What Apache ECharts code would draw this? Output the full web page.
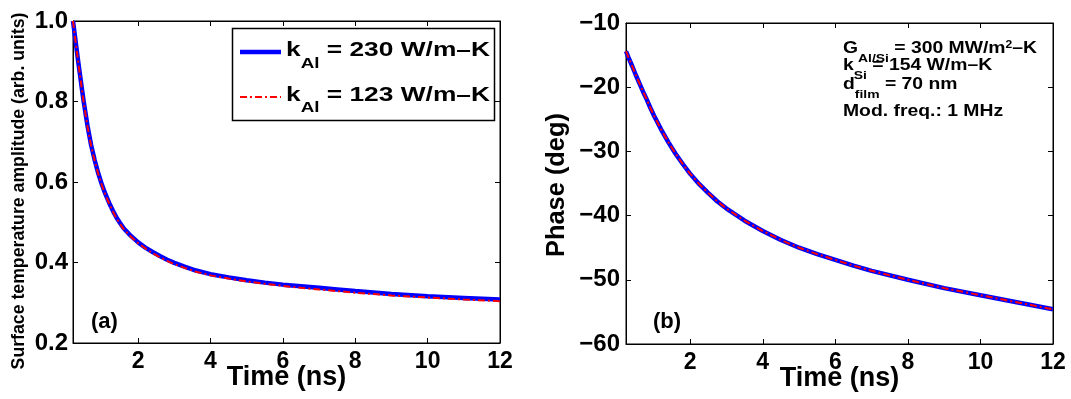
<!DOCTYPE html>
<html>
<head>
<meta charset="utf-8">
<script src="https://cdn.jsdelivr.net/npm/echarts@6/dist/echarts.min.js"></script>
<style>
html,body{margin:0;padding:0;background:#fff;}
#chart{width:1071px;height:399px;}
</style>
</head>
<body>
<div id="chart"></div>
<script>
// ---- data ----
const timeA = [0.2,0.25,0.3,0.35,0.4,0.45,0.5,0.6,0.7,0.8,0.9,1.0,1.1,1.2,1.3,1.4,1.5,1.6,1.8,2.0,2.2,2.4,2.6,2.8,3.0,3.3,3.6,4.0,4.5,5,5.5,6,6.5,7,7.5,8,9,10,11,12];
const ampK230 = [1.0,0.965,0.93,0.895,0.862,0.829,0.797,0.74,0.692,0.654,0.621,0.593,0.569,0.548,0.529,0.512,0.498,0.485,0.466,0.450,0.437,0.426,0.416,0.407,0.399,0.389,0.380,0.371,0.363,0.356,0.350,0.345,0.341,0.337,0.333,0.329,0.322,0.316,0.312,0.308];
const ampK123 = [1.0,0.963,0.928,0.893,0.860,0.827,0.795,0.738,0.690,0.652,0.619,0.591,0.567,0.546,0.527,0.510,0.496,0.483,0.464,0.448,0.435,0.423,0.413,0.404,0.396,0.386,0.377,0.368,0.360,0.353,0.347,0.342,0.337,0.333,0.329,0.325,0.318,0.313,0.308,0.304];

const timeB = [0.23,0.3,0.4,0.5,0.6,0.7,0.8,0.9,1.0,1.2,1.4,1.6,1.8,2.0,2.25,2.5,2.75,3.0,3.5,4.0,4.5,5.0,5.5,6.0,6.5,7.0,8.0,9.0,10,11,12];
const phaseK230 = [-14.4,-15.4,-16.7,-18.1,-19.4,-20.7,-21.9,-23.2,-24.4,-26.6,-28.6,-30.4,-32.0,-33.5,-35.1,-36.5,-37.8,-38.9,-40.8,-42.4,-43.8,-45.0,-46.0,-46.9,-47.8,-48.6,-50.0,-51.3,-52.4,-53.5,-54.6];
const phaseK123 = [-14.4,-15.4,-16.7,-18.1,-19.4,-20.7,-21.9,-23.2,-24.4,-26.6,-28.6,-30.4,-32.0,-33.5,-35.1,-36.5,-37.8,-38.9,-40.8,-42.4,-43.8,-45.0,-46.0,-46.9,-47.8,-48.6,-50.0,-51.3,-52.4,-53.5,-54.6];

const xTicks = [2,4,6,8,10,12];
const seriesNames = ['k230','k123'];
// fragments: [text, kind] kind: m = main, s = subscript, p = superscript
const legendLabels = [
  [['k','m'],['Al','s'],[' = 230 W/m–K','m']],
  [['k','m'],['Al','s'],[' = 123 W/m–K','m']]
];
const annotLines = [
  [['G','m'],['Al/Si','s'],[' = 300 MW/m','m'],['2','p'],['–K','m']],
  [['k','m'],['Si','s'],[' = 154 W/m–K','m']],
  [['d','m'],['film','s'],[' = 70 nm','m']],
  [['Mod. freq.: 1 MHz','m']]
];
const panelLabels = ['(a)','(b)'];
const yTitleA = 'Surface temperature amplitude (arb. units)';
const yTitleB = 'Phase (deg)';
const xTitle = 'Time (ns)';

// ---- chart ----
const FF = "'Liberation Sans', Arial, Helvetica, sans-serif";
const chart = echarts.init(document.getElementById('chart'), null, {renderer:'canvas'});
const mctx = document.createElement('canvas').getContext('2d');
function textW(t, size){ mctx.font = 'bold ' + size + 'px ' + FF; return mctx.measureText(t).width; }

function pairs(xs, ys){ return xs.map((x,i)=>[x, ys[i]]); }

// build a line of text from fragments, stretched to a target width if given
function fragLine(x, y, frags, sizes, offs, targetW, scaleIn){
  const nat = frags.reduce((a,f)=>a + textW(f[0], sizes[f[1]]), 0);
  const sc = scaleIn || (targetW ? targetW/nat : 1);
  let cx = x;
  const els = frags.map(f=>{
    const el = {type:'text', x:cx, y:y + offs[f[1]], scaleX:sc, z:10,
      style:{text:f[0], font:'bold '+sizes[f[1]]+'px '+FF, fill:'#000', textAlign:'left', textVerticalAlign:'middle'}};
    cx += textW(f[0], sizes[f[1]]) * sc;
    return el;
  });
  return {els:els, scale:sc};
}

const G = [
  {left:73, top:21, width:427, height:322},
  {left:626, top:23, width:427, height:321}
];

function xAx(gi, min, main){
  return {
    type:'value', gridIndex:gi, min:min, max:12,
    position: main ? 'bottom' : 'top',
    axisLine:{show:true, onZero:false, lineStyle:{color:'#000', width:1}},
    axisTick:{show:true, inside:true, length:5, customValues:xTicks, lineStyle:{color:'#000'}},
    axisLabel:{show:main, customValues:xTicks, margin:7, color:'#000', fontFamily:FF, fontWeight:'bold', fontSize:23},
    splitLine:{show:false},
    name: main ? xTitle : '', nameLocation:'middle', nameGap:21, nameMoveOverlap:false,
    nameTextStyle:{color:'#000', fontFamily:FF, fontWeight:'bold', fontSize:27}
  };
}
function yAx(gi, min, max, interval, main, fmt, margin){
  return {
    type:'value', gridIndex:gi, min:min, max:max, interval:interval,
    position: main ? 'left' : 'right',
    axisLine:{show:true, onZero:false, lineStyle:{color:'#000', width:1}},
    axisTick:{show:true, inside:true, length:5, lineStyle:{color:'#000'}},
    axisLabel:{show:main, margin:margin, color:'#000', fontFamily:FF, fontWeight:'bold', fontSize:24, formatter:fmt},
    splitLine:{show:false}
  };
}

const blueStyle = {color:'#0000ff', width:4.5, type:'solid'};
const redStyle = {color:'#ff0000', width:2, type:[7,3,2,3]};

function mkSeries(name, xi, yi, data, ls, z){
  return {
    name:name, type:'line', xAxisIndex:xi, yAxisIndex:yi, data:data,
    showSymbol:false, symbol:'none', smooth:false,
    lineStyle:ls, itemStyle:{color:ls.color}, z:z, silent:true, animation:false
  };
}

let graphics = [
  {type:'rect', z:10, shape:{x:232.5, y:28.5, width:262, height:92}, style:{fill:'#fff', stroke:'#000', lineWidth:1.5}}
];
const legendRowsY = [50.5, 95.2];
const legendLineY = [52, 97];
[blueStyle, redStyle].forEach((ls,i)=>{
  graphics.push({type:'line', z:11, shape:{x1:240, y1:legendLineY[i], x2:281, y2:legendLineY[i]},
    style:{stroke:ls.color, lineWidth:ls.width, lineDash: ls.type==='solid'?null:ls.type}});
  const r = fragLine(286, legendRowsY[i], legendLabels[i], {m:21, s:15}, {m:0, s:13}, 204);
  graphics = graphics.concat(r.els);
});

const annotY = [48.3, 65.5, 84.5, 111.8];
const aSizes = {m:16, s:11.5, p:10};
const aOffs = {m:0, s:10.5, p:-3.5};
const first = fragLine(843, annotY[0], annotLines[0], aSizes, aOffs, 194);
graphics = graphics.concat(first.els);
for (let i=1;i<annotLines.length;i++){
  graphics = graphics.concat(fragLine(843, annotY[i], annotLines[i], aSizes, aOffs, null, first.scale).els);
}

graphics = graphics.concat([
  {type:'text', x:91, y:322, z:10, style:{text:panelLabels[0], font:'bold 22px '+FF, fill:'#000', textVerticalAlign:'middle'}},
  {type:'text', x:653, y:322, z:10, style:{text:panelLabels[1], font:'bold 22px '+FF, fill:'#000', textVerticalAlign:'middle'}},
  {type:'text', x:19.5, y:191, rotation:Math.PI/2, z:10, style:{text:yTitleA, font:'bold 17.7px '+FF, fill:'#000', textAlign:'center', textVerticalAlign:'middle'}},
  {type:'text', x:557, y:185, rotation:Math.PI/2, z:10, style:{text:yTitleB, font:'bold 25.4px '+FF, fill:'#000', textAlign:'center', textVerticalAlign:'middle'}}
]);

const option = {
  backgroundColor:'#fff',
  animation:false,
  grid: G.map(g=>Object.assign({show:true, borderColor:'#000', borderWidth:1, backgroundColor:'transparent', containLabel:false, outerBoundsMode:'none'}, g)),
  xAxis:[ xAx(0,0.2,true), xAx(0,0.2,false), xAx(1,0.23,true), xAx(1,0.23,false) ],
  yAxis:[
    yAx(0,0.2,1.0,0.2,true,v=>v.toFixed(1),5),
    yAx(0,0.2,1.0,0.2,false,null,5),
    yAx(1,-60,-10,10,true,v=>String(v).replace('-','\u2212'),6),
    yAx(1,-60,-10,10,false,null,6)
  ],
  series:[
    mkSeries(seriesNames[0],0,0,pairs(timeA,ampK230),blueStyle,2),
    mkSeries(seriesNames[1],0,0,pairs(timeA,ampK123),redStyle,3),
    mkSeries(seriesNames[0],2,2,pairs(timeB,phaseK230),blueStyle,2),
    mkSeries(seriesNames[1],2,2,pairs(timeB,phaseK123),redStyle,3)
  ],
  graphic: graphics
};
chart.setOption(option);
</script>
</body>
</html>
